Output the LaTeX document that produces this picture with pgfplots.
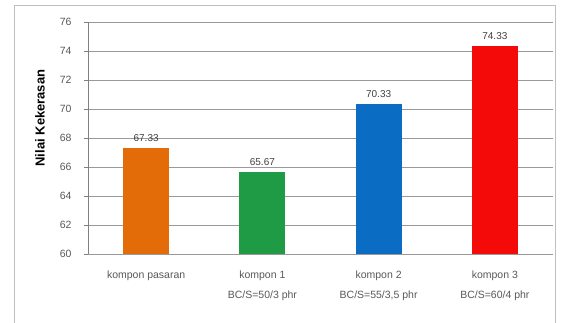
\documentclass[border=0pt]{standalone}
\usepackage{pgfplots}
\pgfplotsset{compat=1.18}
\usepackage{fontspec}
\setmainfont{Liberation Sans}
\definecolor{cOrange}{HTML}{E36C09}
\definecolor{cGreen}{HTML}{1F9B45}
\definecolor{cBlue}{HTML}{0B6CC4}
\definecolor{cRed}{HTML}{F50A0A}
\definecolor{txt}{HTML}{595959}
\begin{document}
\begin{tikzpicture}[x=1pt,y=1pt]
\useasboundingbox (0,0) rectangle (564,322);
\fill[white] (0,0) rectangle (564,322);
\draw[black!25, line width=0.8pt] (14,-5) -- (14,317) -- (555,317) -- (555,-5);
\node[rotate=90, font=\fontsize{13}{15}\selectfont\bfseries] at (40,204) {Nilai Kekerasan};
\begin{axis}[
  at={(88pt,68pt)}, anchor=south west,
  scale only axis, width=465pt, height=232pt,
  xmin=-0.5, xmax=3.5, ymin=60, ymax=76,
  ytick={60,62,...,76},
  xtick={0,1,2,3},
  xticklabels={kompon pasaran, {kompon 1\\[8pt]BC/S=50/3 phr}, {kompon 2\\[8pt]BC/S=55/3,5 phr}, {kompon 3\\[8pt]BC/S=60/4 phr}},
  xticklabel style={align=center, font=\fontsize{10.5}{12}\selectfont, text=txt, anchor=north, yshift=-9pt},
  yticklabel style={font=\fontsize{10.5}{12}\selectfont, text=txt, xshift=-9pt},
  /pgf/number format/assume math mode=true,
  axis line style={draw=none},
  ymajorgrids, grid style={black!40, line width=0.6pt},
  major tick length=4pt,
  ytick style={black!50, line width=0.6pt},
  xtick style={draw=none},
  tick align=outside, ytick pos=left,
  bar width=46pt,
  nodes near coords,
  nodes near coords style={font=\fontsize{10}{12}\selectfont, text=black!75, anchor=south, yshift=3pt, /pgf/number format/.cd, fixed, fixed zerofill, precision=2, assume math mode=true},
  clip=false,
]
\addplot[ybar, fill=cOrange, draw=none, forget plot] coordinates {(0,67.33)};
\addplot[ybar, fill=cGreen, draw=none, forget plot] coordinates {(1,65.67)};
\addplot[ybar, fill=cBlue, draw=none, forget plot] coordinates {(2,70.33)};
\addplot[ybar, fill=cRed, draw=none, forget plot] coordinates {(3,74.33)};
\draw[black!50, line width=0.6pt] (axis cs:-0.5,60) -- (axis cs:-0.5,76);
\end{axis}
\end{tikzpicture}
\end{document}
